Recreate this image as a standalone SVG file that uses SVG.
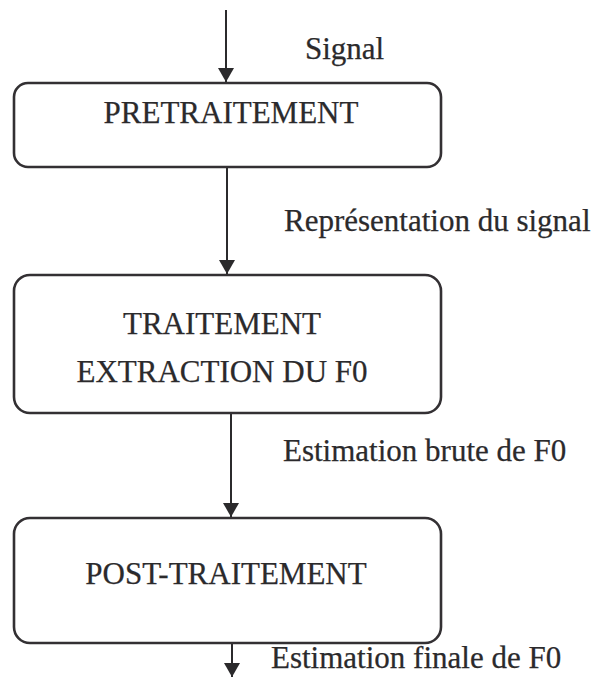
<svg xmlns="http://www.w3.org/2000/svg" width="594" height="678" viewBox="0 0 594 678">
  <style>
    .box { fill: #ffffff; stroke: #333033; stroke-width: 2.6; }
    .lbl { font-family: "Liberation Serif", "Times New Roman", serif; font-size: 31px; fill: #2b2a2c; stroke: #2b2a2c; stroke-width: 0.25; }
    .mid { text-anchor: middle; }
    .flow { stroke: #2b2a2c; stroke-width: 2; fill: none; marker-end: url(#head); }
  </style>
  <defs>
    <marker id="head" viewBox="0 0 14 16" refX="14" refY="8" markerWidth="14" markerHeight="16" markerUnits="userSpaceOnUse" orient="auto">
      <path d="M0,0 L14,8 L0,16 z" fill="#2b2a2c"/>
    </marker>
  </defs>
  <rect width="594" height="678" fill="#ffffff"/>

  <!-- flow arrows between stages -->
  <g id="connectors">
    <line class="flow" x1="226" y1="10" x2="226" y2="82"/>
    <line class="flow" x1="227" y1="168" x2="227" y2="274"/>
    <line class="flow" x1="231" y1="414" x2="231" y2="517"/>
    <line class="flow" x1="232" y1="644" x2="232" y2="677"/>
  </g>

  <!-- data labels beside the arrows -->
  <g id="labels">
    <text class="lbl" x="305" y="59">Signal</text>
    <text class="lbl" x="284" y="231">Représentation du signal</text>
    <text class="lbl" x="283" y="461">Estimation brute de F0</text>
    <text class="lbl" x="271" y="668">Estimation finale de F0</text>
  </g>

  <g id="pretraitement">
    <rect class="box" x="14" y="83" width="427" height="84" rx="14" ry="14"/>
    <text class="lbl mid" x="231" y="123">PRETRAITEMENT</text>
  </g>

  <g id="traitement">
    <rect class="box" x="14" y="275" width="427" height="138" rx="16" ry="16"/>
    <text class="lbl mid" x="222" y="334">TRAITEMENT</text>
    <text class="lbl mid" x="222" y="382">EXTRACTION DU F0</text>
  </g>

  <g id="post-traitement">
    <rect class="box" x="14" y="518" width="427" height="125" rx="16" ry="16"/>
    <text class="lbl mid" x="226" y="584">POST-TRAITEMENT</text>
  </g>
</svg>
